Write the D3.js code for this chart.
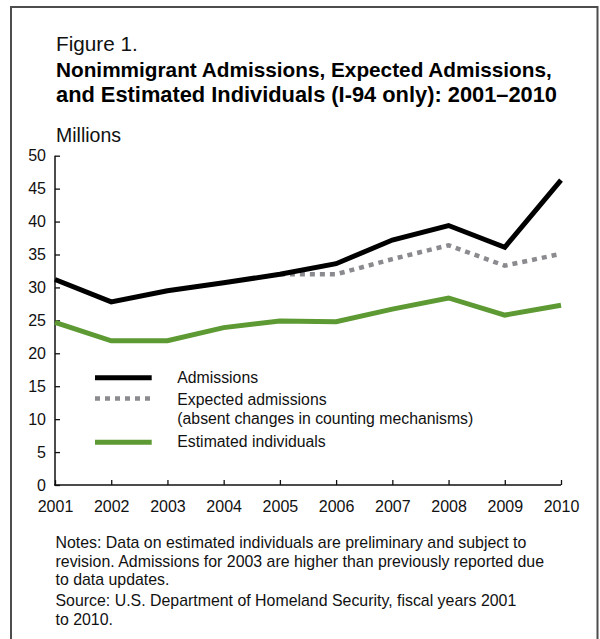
<!DOCTYPE html>
<html>
<head>
<meta charset="utf-8">
<script src="https://cdn.jsdelivr.net/npm/d3@7"></script>
<style>
  html, body { margin: 0; padding: 0; background: #fff; }
  svg { display: block; font-family: "Liberation Sans", Arial, sans-serif; }
</style>
</head>
<body>
<div id="chart"></div>
<script>
// -- data (millions) --
const years = [2001, 2002, 2003, 2004, 2005, 2006, 2007, 2008, 2009, 2010];
const admissions = [31.2, 27.8, 29.5, 30.7, 32.0, 33.6, 37.2, 39.4, 36.1, 46.3];
const expected = [null, null, null, null, 32.0, 32.0, 34.3, 36.4, 33.3, 35.1];
const estimated = [24.7, 21.9, 21.9, 23.9, 24.9, 24.8, 26.7, 28.4, 25.8, 27.3];
const yTicks = [0, 5, 10, 15, 20, 25, 30, 35, 40, 45, 50];

const titleLines = [
  'Nonimmigrant Admissions, Expected Admissions,',
  'and Estimated Individuals (I-94 only): 2001\u20132010'
];
const legendItems = [
  { key: 'adm', label: ['Admissions'] },
  { key: 'exp', label: ['Expected admissions', '(absent changes in counting mechanisms)'] },
  { key: 'est', label: ['Estimated individuals'] }
];
const noteLines = [
  'Notes: Data on estimated individuals are preliminary and subject to',
  'revision. Admissions for 2003 are higher than previously reported due',
  'to data updates.'
];
const sourceLines = [
  'Source: U.S. Department of Homeland Security, fiscal years 2001',
  'to 2010.'
];

const W = 600, H = 639;
const styles = {
  adm: { color: '#000000', width: 5, dash: null },
  exp: { color: '#8b8b8f', width: 4.5, dash: '5,5' },
  est: { color: '#5e9a33', width: 5, dash: null }
};

const svg = d3.select('#chart').append('svg')
  .attr('width', W)
  .attr('height', H)
  .attr('viewBox', [0, 0, W, H]);

// frame (open at the bottom)
svg.append('path')
  .attr('d', 'M11,639V7H597.5V639')
  .attr('fill', 'none')
  .attr('stroke', '#4d4d4d')
  .attr('stroke-width', 2);

// shrink/grow a text node so it spans roughly the given width
function fitWidth(sel, target) {
  sel.each(function() {
    const len = this.getComputedTextLength();
    const fs = parseFloat(this.getAttribute('font-size'));
    if (len > 0) this.setAttribute('font-size', (fs * target / len).toFixed(2));
  });
}

svg.append('text')
  .attr('x', 56).attr('y', 51)
  .attr('font-size', 20.7)
  .attr('fill', '#111')
  .text('Figure 1.');

const titleWidths = [496, 501];
titleLines.forEach((line, i) => {
  svg.append('text')
    .attr('x', 56).attr('y', 76.5 + i * 25.5)
    .attr('font-size', 20.5)
    .attr('font-weight', 'bold')
    .attr('fill', '#000')
    .text(line)
    .call(fitWidth, titleWidths[i]);
});

svg.append('text')
  .attr('x', 56).attr('y', 141.5)
  .attr('font-size', 19.5)
  .attr('fill', '#111')
  .text('Millions');

// -- scales & axes --
const x = d3.scaleLinear().domain([2001, 2010]).range([55, 561]);
const y = d3.scaleLinear().domain([0, 50]).range([485, 155.7]);

const yAxis = svg.append('g')
  .attr('transform', 'translate(55,0)')
  .call(d3.axisRight(y).tickValues(yTicks).tickSize(5).tickFormat(d3.format('d')));
yAxis.select('.domain').attr('stroke', '#111').attr('stroke-width', 1.5)
  .attr('d', `M0,${y(50)}V${y(0)}`);
yAxis.selectAll('.tick line').attr('stroke', '#111').attr('stroke-width', 1.3);
yAxis.selectAll('.tick text')
  .attr('x', -9)
  .attr('text-anchor', 'end')
  .attr('font-size', 16)
  .attr('font-family', '"Liberation Sans", Arial, sans-serif')
  .attr('fill', '#111');

const xAxis = svg.append('g')
  .attr('transform', `translate(0,${y(0)})`)
  .call(d3.axisTop(x).tickValues(years).tickSize(5).tickFormat(d3.format('d')));
xAxis.select('.domain').attr('stroke', '#111').attr('stroke-width', 1.5)
  .attr('d', `M${x(2001) - 1},0H${x(2010)}`);
xAxis.selectAll('.tick line').attr('stroke', '#111').attr('stroke-width', 1.3);
xAxis.selectAll('.tick text')
  .attr('y', 27)
  .attr('dy', 0)
  .attr('font-size', 16)
  .attr('font-family', '"Liberation Sans", Arial, sans-serif')
  .attr('fill', '#111');

// -- series --
const series = [
  { key: 'exp', values: expected },
  { key: 'est', values: estimated },
  { key: 'adm', values: admissions }
];

const line = d3.line()
  .defined(d => d.v != null)
  .x(d => x(d.year))
  .y(d => y(d.v));

svg.append('g').selectAll('path.series')
  .data(series)
  .enter().append('path')
  .attr('class', 'series')
  .attr('fill', 'none')
  .attr('stroke', d => styles[d.key].color)
  .attr('stroke-width', d => styles[d.key].width)
  .attr('stroke-dasharray', d => styles[d.key].dash)
  .attr('stroke-linejoin', 'miter')
  .attr('d', d => line(years.map((yr, i) => ({ year: yr, v: d.values[i] }))));

// -- legend --
const legendY = { adm: 377.7, exp: 398.5, est: 442.3 };
const legendTextY = { adm: [382.5], exp: [404.5, 424], est: [447] };
const legend = svg.append('g').attr('class', 'legend');
legendItems.forEach(item => {
  const st = styles[item.key];
  legend.append('line')
    .attr('x1', 95).attr('x2', st.dash ? 150 : 151.7)
    .attr('y1', legendY[item.key]).attr('y2', legendY[item.key])
    .attr('stroke', st.color)
    .attr('stroke-width', st.width)
    .attr('stroke-dasharray', st.dash);
  item.label.forEach((txt, j) => {
    legend.append('text')
      .attr('x', 177.3)
      .attr('y', legendTextY[item.key][j])
      .attr('font-size', 15.8)
      .attr('fill', '#111')
      .text(txt);
  });
});

// -- notes & source --
const noteY = [547.5, 566.5, 584.5];
noteLines.forEach((txt, i) => {
  svg.append('text')
    .attr('x', 55.5).attr('y', noteY[i])
    .attr('font-size', 15.9)
    .attr('fill', '#111')
    .text(txt);
});
const sourceY = [606, 624.5];
sourceLines.forEach((txt, i) => {
  svg.append('text')
    .attr('x', 55.5).attr('y', sourceY[i])
    .attr('font-size', 15.9)
    .attr('fill', '#111')
    .text(txt);
});
</script>
</body>
</html>
